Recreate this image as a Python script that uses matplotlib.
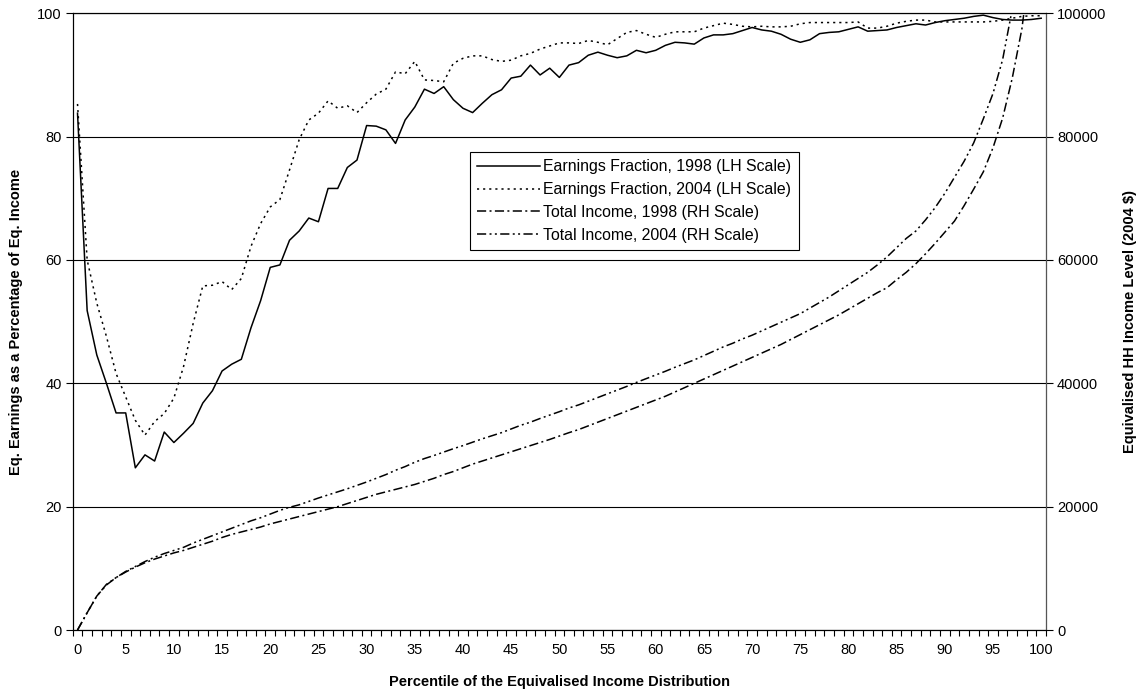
import numpy as np
import matplotlib.pyplot as plt

plt.rcParams['font.family'] = ['Liberation Sans', 'DejaVu Sans']

# percentile 0..100
percentile = list(range(101))

# earnings as % of equivalised income (left scale)
earn_1998 = [83.8, 51.8, 44.6, 40.0, 35.2, 35.2, 26.3, 28.4, 27.4, 32.1,
             30.4, 31.9, 33.5, 36.8, 38.8, 42.0, 43.1, 43.9, 49.0, 53.4,
             58.8, 59.2, 63.2, 64.7, 66.8, 66.2, 71.6, 71.6, 75.0, 76.2,
             81.8, 81.7, 81.1, 78.9, 82.7, 84.8, 87.7, 87.0, 88.1, 86.0,
             84.6, 83.9, 85.4, 86.8, 87.6, 89.5, 89.8, 91.6, 90.0, 91.1,
             89.6, 91.6, 92.0, 93.2, 93.7, 93.2, 92.8, 93.1, 94.0, 93.6,
             94.0, 94.8, 95.3, 95.2, 95.0, 96.0, 96.5, 96.5, 96.7, 97.2,
             97.7, 97.3, 97.1, 96.6, 95.8, 95.3, 95.7, 96.7, 96.9, 97.0,
             97.4, 97.8, 97.1, 97.2, 97.3, 97.7, 98.0, 98.3, 98.1, 98.5,
             98.8, 99.0, 99.2, 99.5, 99.7, 99.3, 99.0, 98.9, 98.9, 99.0,
             99.2]
earn_2004 = [85.3, 60.0, 53.0, 47.6, 41.6, 37.8, 34.0, 31.6, 33.8, 35.1,
             37.6, 42.7, 49.7, 55.8, 55.9, 56.5, 55.2, 57.0, 62.2, 65.9,
             68.6, 69.8, 74.6, 79.5, 82.7, 83.8, 85.8, 84.6, 85.0, 83.9,
             85.5, 86.9, 87.7, 90.5, 90.2, 92.2, 89.2, 89.1, 88.9, 91.9,
             92.7, 93.1, 93.1, 92.5, 92.2, 92.4, 93.1, 93.5, 94.2, 94.7,
             95.2, 95.2, 95.1, 95.6, 95.3, 94.9, 95.9, 96.9, 97.2, 96.6,
             96.1, 96.6, 97.0, 97.0, 97.0, 97.6, 98.0, 98.4, 98.2, 97.9,
             97.8, 97.9, 97.8, 97.8, 97.9, 98.3, 98.5, 98.5, 98.5, 98.5,
             98.5, 98.6, 97.6, 97.6, 97.9, 98.4, 98.7, 98.9, 98.9, 98.6,
             98.6, 98.6, 98.6, 98.6, 98.6, 98.7, 98.9, 99.2, 99.5, 99.6,
             99.6]

# total equivalised income, 2004 $ (right scale)
income_1998 = [0, 2800, 5500, 7300, 8500, 9400, 10200, 10900, 11500, 12000,
               12500, 12900, 13400, 13900, 14400, 15000, 15500, 15900, 16300, 16700,
               17200, 17600, 18000, 18400, 18800, 19200, 19600, 20000, 20500, 21000,
               21500, 22000, 22400, 22800, 23200, 23600, 24100, 24600, 25200, 25700,
               26300, 26900, 27400, 27900, 28400, 28900, 29400, 29900, 30400, 30900,
               31450, 32000, 32500, 33100, 33700, 34300, 34900, 35500, 36100, 36700,
               37300, 37900, 38600, 39300, 40000, 40700, 41400, 42100, 42800, 43500,
               44200, 44900, 45600, 46300, 47100, 47900, 48700, 49500, 50300, 51100,
               52000, 52900, 53800, 54700, 55500, 56800, 58000, 59400, 61000, 62700,
               64500, 66300, 68800, 71500, 74300, 78200, 83000, 89500, 97500, 110000,
               140000]
income_2004 = [0, 2800, 5500, 7400, 8500, 9500, 10300, 11100, 11800, 12400,
               12900, 13400, 14100, 14700, 15300, 15900, 16500, 17100, 17700, 18200,
               18800, 19400, 19900, 20300, 20850, 21400, 21900, 22400, 22900, 23450,
               24000, 24600, 25200, 25900, 26500, 27200, 27800, 28300, 28850, 29400,
               29900, 30450, 31000, 31500, 32000, 32600, 33200, 33700, 34300, 34850,
               35400, 36000, 36500, 37100, 37700, 38300, 38900, 39500, 40150, 40750,
               41350, 41950, 42600, 43200, 43800, 44500, 45200, 45900, 46500, 47200,
               47800, 48500, 49200, 49900, 50600, 51300, 52200, 53100, 54000, 55000,
               56000, 57000, 58000, 59200, 60500, 62000, 63500, 64700, 66500, 68500,
               70800, 73400, 76000, 79000, 82900, 87000, 92500, 100700, 115000, 135000,
               190000]

labels = ['Earnings Fraction, 1998 (LH Scale)', 'Earnings Fraction, 2004 (LH Scale)',
          'Total Income, 1998 (RH Scale)', 'Total Income, 2004 (RH Scale)']

W, H = 1142, 693
fig = plt.figure(figsize=(W / 100, H / 100), dpi=100)
ax = fig.add_axes([72.7 / W, 1 - 630 / H, (1046 - 72.7) / W, (630 - 13.3) / H])
ax2 = ax.twinx()

lw = 1.1
l1, = ax.plot(percentile, earn_1998, color='black', lw=lw)
l2, = ax.plot(percentile, earn_2004, color='black', lw=lw, dashes=(1.4, 2.6))
l3, = ax2.plot(percentile, income_1998, color='black', lw=lw, dashes=(6, 2.2, 1.3, 2.2))
l4, = ax2.plot(percentile, income_2004, color='black', lw=lw,
               dashes=(6, 2.2, 1.3, 2.2, 1.3, 2.2))

ax.set_xlim(-0.5, 100.5)
ax.set_ylim(0, 100)
ax2.set_ylim(0, 100000)

ax.set_yticks(range(0, 101, 20))
ax2.set_yticks(range(0, 100001, 20000))
ax.set_xticks(range(0, 101, 5))
ax.set_xticks(np.arange(-0.5, 101, 1), minor=True)
ax.tick_params(axis='x', which='major', length=0, labelsize=10.5, pad=9)
ax.tick_params(axis='x', which='minor', length=4, width=0.8, direction='out')
ax.tick_params(axis='y', length=5, width=0.8, labelsize=10.5, pad=3)
ax2.tick_params(axis='y', length=5, width=0.8, labelsize=10.5, pad=3)

ax.yaxis.grid(True, color='black', lw=0.8)
for s in ax.spines.values():
    s.set_linewidth(0.8)
for s in ax2.spines.values():
    s.set_linewidth(0.8)
ax2.spines['right'].set_color('#555555')

ax.set_xlabel('Percentile of the Equivalised Income Distribution', fontsize=10.5,
              fontweight='bold', labelpad=13)
ax.set_ylabel('Eq. Earnings as a Percentage of Eq. Income', fontsize=10.5,
              fontweight='bold', labelpad=10)
ax2.set_ylabel('Equivalised HH Income Level (2004 $)', fontsize=10.5,
               fontweight='bold', labelpad=12)

leg = ax2.legend([l1, l2, l3, l4], labels, loc='upper left',
                 bbox_to_anchor=(0.408, 0.775), fontsize=11.4, frameon=True,
                 fancybox=False, edgecolor='black', framealpha=1,
                 handlelength=4.0, handletextpad=0.2, borderaxespad=0,
                 labelspacing=0.5, borderpad=0.45)
leg.get_frame().set_linewidth(0.8)

fig.savefig('out.png', dpi=100)
